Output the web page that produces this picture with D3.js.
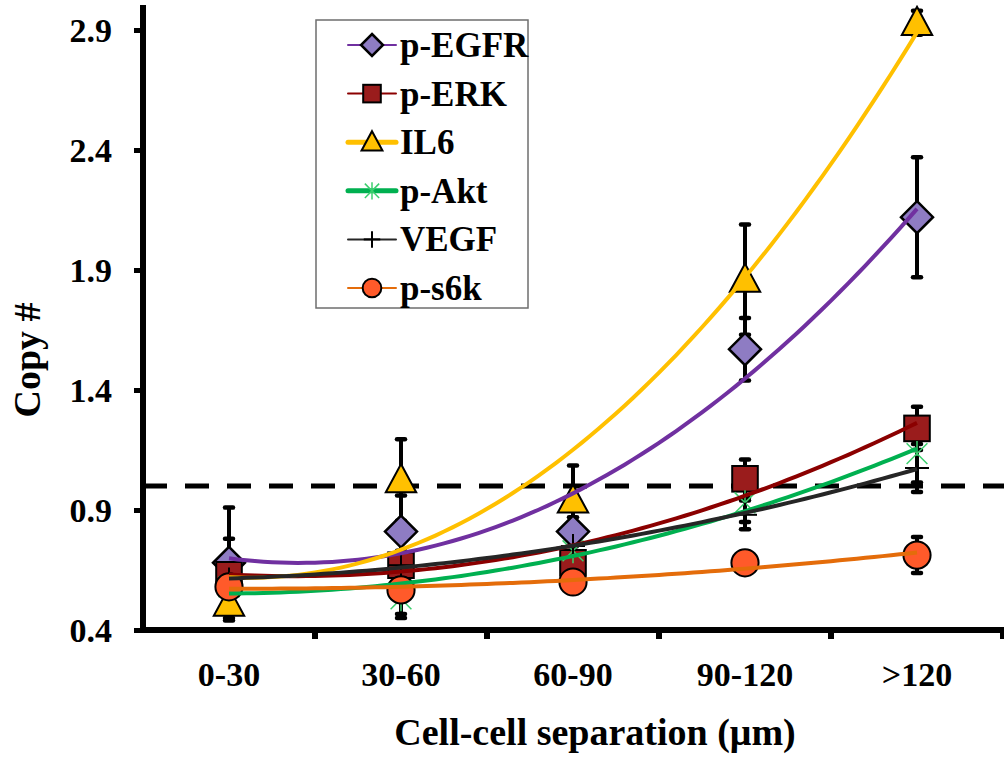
<!DOCTYPE html>
<html>
<head>
<meta charset="utf-8">
<script src="https://cdn.jsdelivr.net/npm/d3@7.9.0/dist/d3.min.js"></script>
<style>
  html, body { margin: 0; padding: 0; background: #fff; }
  svg { display: block; }
  text { font-family: "Liberation Serif", "Times New Roman", serif; font-weight: bold; fill: #000; }
</style>
</head>
<body>
<svg width="1004" height="759"></svg>
<script>
// categories and tick labels
const categories = ['0-30', '30-60', '60-90', '90-120', '>120'];
const yTicks = [0.4, 0.9, 1.4, 1.9, 2.4, 2.9];

// series values (mean copy #) and error bars
const pEGFR = [0.68, 0.81, 0.81, 1.57, 2.12];
const pEGFRErr = [0.23, 0.15, 0.06, 0.13, 0.25];
const pERK = [0.63, 0.67, 0.68, 1.03, 1.24];
const pERKErr = [0.15, 0.05, 0.05, 0.08, 0.09];
const IL6 = [0.51, 1.025, 0.94, 1.86, 2.93];
const IL6Err = [0.07, 0.17, 0.145, 0.23, 0.05];
const pAkt = [0.58, 0.53, 0.73, 0.93, 1.135];
const pAktErr = [0.05, 0.08, 0.06, 0.08, 0.12];
const VEGF = [0.61, 0.67, 0.75, 0.88, 1.075];
const VEGFErr = [0.05, 0.06, 0.05, 0.06, 0.1];
const pS6k = [0.58, 0.567, 0.6, 0.68, 0.712];
const pS6kErr = [0.05, 0.1, 0.04, 0.04, 0.075];

const baseline = 1.0;

const series = [
  { name: 'p-EGFR', values: pEGFR, err: pEGFRErr, line: '#7030a0', fill: '#8e7cc3', shape: 'diamond', lw: 2 },
  { name: 'p-ERK', values: pERK, err: pERKErr, line: '#8b0000', fill: '#9a1c1c', shape: 'square', lw: 2 },
  { name: 'IL6', values: IL6, err: IL6Err, line: '#ffc000', fill: '#ffc000', shape: 'triangle', lw: 5 },
  { name: 'p-Akt', values: pAkt, err: pAktErr, line: '#00b050', fill: '#3ccf6e', shape: 'asterisk', lw: 5 },
  { name: 'VEGF', values: VEGF, err: VEGFErr, line: '#262626', fill: '#000', shape: 'plus', lw: 2 },
  { name: 'p-s6k', values: pS6k, err: pS6kErr, line: '#e46c0a', fill: '#ff5a2a', shape: 'circle', lw: 2 }
];

const svg = d3.select('svg');

const x = d3.scaleBand().domain(categories).range([143, 1003]);
const y = d3.scaleLinear().domain([0.4, 3.0]).range([630, 6]);
const cx = c => x(c) + x.bandwidth() / 2;
// index -> pixel, for trendlines
const xi = d3.scaleLinear().domain([0, categories.length - 1]).range([cx(categories[0]), cx(categories[categories.length - 1])]);

// least squares quadratic fit (Excel style polynomial trendline)
function polyFit2(ys) {
  const xs = ys.map((d, i) => i);
  let s = [0, 0, 0, 0, 0], t = [0, 0, 0];
  xs.forEach((xv, i) => {
    for (let k = 0; k < 5; k++) s[k] += Math.pow(xv, k);
    for (let k = 0; k < 3; k++) t[k] += Math.pow(xv, k) * ys[i];
  });
  const m = [[s[0], s[1], s[2], t[0]], [s[1], s[2], s[3], t[1]], [s[2], s[3], s[4], t[2]]];
  for (let i = 0; i < 3; i++) {
    for (let j = i + 1; j < 3; j++) {
      const f = m[j][i] / m[i][i];
      for (let k = i; k < 4; k++) m[j][k] -= f * m[i][k];
    }
  }
  const c = [0, 0, 0];
  for (let i = 2; i >= 0; i--) {
    let v = m[i][3];
    for (let k = i + 1; k < 3; k++) v -= m[i][k] * c[k];
    c[i] = v / m[i][i];
  }
  return xv => c[0] + c[1] * xv + c[2] * xv * xv;
}

// axes
const yAxis = d3.axisLeft(y).tickValues(yTicks).tickFormat(d3.format('.1f')).tickSize(9).tickPadding(22);
const gy = svg.append('g').attr('transform', 'translate(143,0)').call(yAxis);
gy.select('.domain').remove();
gy.selectAll('.tick line').attr('stroke', '#000').attr('stroke-width', 5);
gy.selectAll('.tick text').style('font-size', '34px').attr('dy', '0.34em');

const xAxis = d3.axisBottom(x).tickSize(0).tickPadding(32);
const gx = svg.append('g').attr('transform', 'translate(0,630)').call(xAxis);
gx.select('.domain').remove();
gx.selectAll('.tick text').style('font-size', '34px');

// x ticks between categories
const bounds = categories.map(c => x(c)).concat([x(categories[categories.length - 1]) + x.bandwidth()]);
svg.append('g').selectAll('line').data(bounds.slice(1)).join('line')
  .attr('x1', d => d).attr('x2', d => d).attr('y1', 630).attr('y2', 639)
  .attr('stroke', '#000').attr('stroke-width', 6);

// axis lines
svg.append('line').attr('x1', 143).attr('x2', 143).attr('y1', y(3.0) - 1).attr('y2', 633)
  .attr('stroke', '#000').attr('stroke-width', 6);
svg.append('line').attr('x1', 140).attr('x2', 1004).attr('y1', 630).attr('y2', 630)
  .attr('stroke', '#000').attr('stroke-width', 6);

// baseline dashed line at 1.0
svg.append('line').attr('x1', 143).attr('x2', 1004).attr('y1', y(baseline)).attr('y2', y(baseline))
  .attr('stroke', '#000').attr('stroke-width', 5).attr('stroke-dasharray', '24,18');

// error bars
const eg = svg.append('g');
series.forEach(s => {
  s.values.forEach((v, i) => {
    const px = cx(categories[i]);
    const top = y(v + s.err[i]), bot = y(v - s.err[i]);
    eg.append('line').attr('x1', px).attr('x2', px).attr('y1', top).attr('y2', bot)
      .attr('stroke', '#000').attr('stroke-width', 4);
    [top, bot].forEach(yy => {
      eg.append('line').attr('x1', px - 4).attr('x2', px + 4).attr('y1', yy).attr('y2', yy)
        .attr('stroke', '#000').attr('stroke-width', 4.5).attr('stroke-linecap', 'round');
    });
  });
});

// marker drawing
function drawMarker(g, s, px, py, size) {
  const r = size / 2;
  if (s.shape === 'diamond') {
    g.append('path').attr('d', `M${px},${py - r}L${px + r},${py}L${px},${py + r}L${px - r},${py}Z`)
      .attr('fill', s.fill).attr('stroke', '#000').attr('stroke-width', 2.5);
  } else if (s.shape === 'square') {
    const h = r * 0.8;
    g.append('rect').attr('x', px - h).attr('y', py - h).attr('width', 2 * h).attr('height', 2 * h)
      .attr('fill', s.fill).attr('stroke', '#000').attr('stroke-width', 2);
  } else if (s.shape === 'triangle') {
    const h = r * 0.95;
    g.append('path').attr('d', `M${px},${py - h * 1.05}L${px + h},${py + h * 0.8}L${px - h},${py + h * 0.8}Z`)
      .attr('fill', s.fill).attr('stroke', '#000').attr('stroke-width', 2);
  } else if (s.shape === 'circle') {
    g.append('circle').attr('cx', px).attr('cy', py).attr('r', r * 0.85)
      .attr('fill', s.fill).attr('stroke', '#000').attr('stroke-width', 2);
  } else if (s.shape === 'asterisk') {
    const h = r * 0.65;
    [[-h, -h, h, h], [-h, h, h, -h], [0, -h * 1.2, 0, h * 1.2]].forEach(l => {
      g.append('line').attr('x1', px + l[0]).attr('y1', py + l[1]).attr('x2', px + l[2]).attr('y2', py + l[3])
        .attr('stroke', s.fill).attr('stroke-width', 1.5);
    });
  } else if (s.shape === 'plus') {
    const h = r * 0.75;
    g.append('line').attr('x1', px - h).attr('x2', px + h).attr('y1', py).attr('y2', py).attr('stroke', '#000').attr('stroke-width', 2);
    g.append('line').attr('x1', px).attr('x2', px).attr('y1', py - h).attr('y2', py + h).attr('stroke', '#000').attr('stroke-width', 2);
  }
}

const mg = svg.append('g');
series.forEach(s => {
  s.values.forEach((v, i) => drawMarker(mg, s, cx(categories[i]), y(v), 32));
});

// trendlines (2nd order polynomial fit)
const tg = svg.append('g');
const steps = d3.range(0, 4.0001, 0.05);
series.forEach(s => {
  const f = polyFit2(s.values);
  const line = d3.line().x(d => xi(d)).y(d => y(f(d))).curve(d3.curveLinear);
  tg.append('path').attr('d', line(steps)).attr('fill', 'none')
    .attr('stroke', s.line).attr('stroke-width', 4);
});

// legend
const lg = svg.append('g');
lg.append('rect').attr('x', 316).attr('y', 20).attr('width', 212).attr('height', 288)
  .attr('fill', '#fff').attr('stroke', '#6e6e6e').attr('stroke-width', 1.5);
series.forEach((s, i) => {
  const ry = 45 + i * 48.6;
  lg.append('line').attr('x1', 348).attr('x2', 396).attr('y1', ry).attr('y2', ry)
    .attr('stroke', s.line).attr('stroke-width', s.lw).attr('stroke-linecap', 'round');
  drawMarker(lg, s, 372, ry, 22);
  lg.append('text').attr('x', 400).attr('y', ry + 12).style('font-size', '35px').text(s.name);
});

// axis titles
svg.append('text').attr('x', 595).attr('y', 745).attr('text-anchor', 'middle')
  .style('font-size', '38px').text('Cell-cell separation (\u03bcm)');
svg.append('text').attr('transform', 'translate(40,360) rotate(-90)').attr('text-anchor', 'middle')
  .style('font-size', '38px').text('Copy #');
</script>
</body>
</html>
